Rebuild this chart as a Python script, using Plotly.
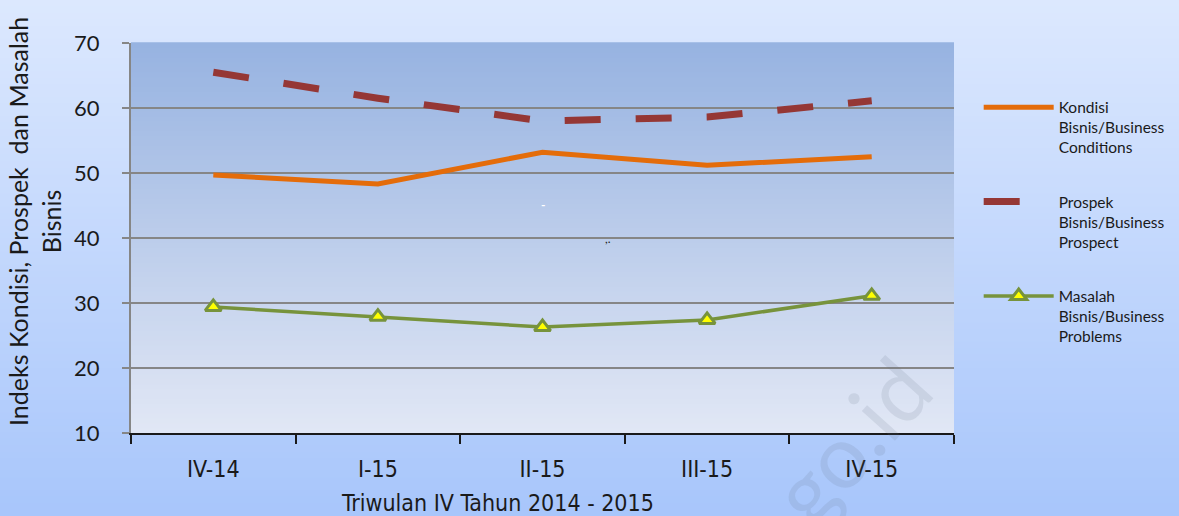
import plotly.graph_objects as go

quarters = ["IV-14", "I-15", "II-15", "III-15", "IV-15"]
kondisi = [49.7, 48.3, 53.2, 51.2, 52.5]
prospek = [65.5, 61.5, 58.0, 58.6, 61.1]
masalah = [29.4, 27.9, 26.3, 27.4, 31.1]

names = [
    "Kondisi<br>Bisnis/Business<br>Conditions",
    "Prospek<br>Bisnis/Business<br>Prospect",
    "Masalah<br>Bisnis/Business<br>Problems",
]

W, H = 1179, 516
L, R, T, B = 131, 225, 43, 83
PW, PH = W - L - R, H - T - B
NARROW = "Liberation Sans Narrow, DejaVu Sans Condensed, Lato, sans-serif"


def mix(c1, c2, t):
    return "rgb({},{},{})".format(*[round(a + (b - a) * t) for a, b in zip(c1, c2)])


fig = go.Figure()

fig.add_trace(go.Scatter(
    x=quarters, y=kondisi, name=names[0], legendgroup="a",
    mode="lines", line=dict(color="#e46c0a", width=5),
))
fig.add_trace(go.Scatter(
    x=quarters, y=prospek, name=names[1], legendgroup="b",
    mode="lines", line=dict(color="#953735", width=7, dash="36px,35px"),
))
fig.add_trace(go.Scatter(
    x=quarters, y=masalah, name=names[2], legendgroup="c",
    mode="lines+markers", line=dict(color="#77933c", width=3.5),
    marker=dict(symbol="triangle-up", size=14, color="#ffff00",
                line=dict(color="#77933c", width=3)),
))

# gradient backgrounds built from thin bands
shapes = []
n = 80
top_c, bot_c = (220, 232, 254), (168, 198, 251)
for i in range(n):
    y0 = -B / PH + (H / PH) * i / n
    y1 = -B / PH + (H / PH) * (i + 1) / n + 0.002
    shapes.append(dict(type="rect", xref="paper", yref="paper",
                       x0=-L / PW, x1=(W - L) / PW, y0=y0, y1=y1,
                       fillcolor=mix(bot_c, top_c, i / (n - 1)),
                       line_width=0, layer="below"))
ptop, pbot = (151, 179, 225), (225, 231, 245)
for i in range(n):
    shapes.append(dict(type="rect", xref="paper", yref="paper",
                       x0=0, x1=1, y0=i / n, y1=(i + 1) / n + 0.002,
                       fillcolor=mix(pbot, ptop, i / (n - 1)),
                       line_width=0, layer="below"))

fig.update_layout(
    width=W, height=H,
    margin=dict(l=L, r=R, t=T, b=B, autoexpand=False),
    paper_bgcolor="#c4d8fd",
    plot_bgcolor="rgba(0,0,0,0)",
    shapes=shapes,
    font=dict(family="Lato, Carlito, sans-serif", color="#1a1a1a"),
    showlegend=True,
    legend=dict(
        x=1.03, y=0.878, xanchor="left", yanchor="top",
        bgcolor="rgba(0,0,0,0)", traceorder="grouped",
        tracegroupgap=31, valign="top", itemwidth=70,
        font=dict(size=15.5, color="#1a1a1a"),
    ),
    xaxis=dict(
        type="category", range=[-0.5, 4.5],
        showline=True, linecolor="#1a1a1a", linewidth=2,
        ticks="outside", tickson="boundaries", ticklen=9,
        tickcolor="#1a1a1a", tickwidth=2,
        showgrid=False,
        tickfont=dict(family=NARROW, size=23, color="#1a1a1a"),
        ticklabelstandoff=14,
    ),
    yaxis=dict(
        range=[10, 70], dtick=10,
        showline=True, linecolor="#868686", linewidth=2,
        ticks="outside", ticklen=7, tickcolor="#868686", tickwidth=2,
        showgrid=True, gridcolor="#868686", gridwidth=2,
        zeroline=False,
        tickfont=dict(size=22, color="#1a1a1a"),
        ticklabelstandoff=18,
    ),
    annotations=[
        dict(text="Indeks Kondisi, Prospek  dan Masalah<br>Bisnis",
             xref="paper", yref="paper", x=(34 - L) / PW, y=(H - B - 222) / PH,
             textangle=-90, showarrow=False, xanchor="center", yanchor="middle",
             font=dict(size=25, color="#1a1a1a")),
        dict(text="Triwulan IV Tahun 2014 - 2015",
             xref="paper", yref="paper", x=(497 - L) / PW, y=(H - B - 503) / PH,
             showarrow=False, xanchor="center", yanchor="middle",
             font=dict(family=NARROW, size=23, color="#1a1a1a")),
        dict(text="<b>-</b>", x=2, y=45.1, showarrow=False,
             font=dict(size=12, color="white")),
        dict(text=",.", x=2.4, y=39.9, showarrow=False,
             font=dict(size=12, color="#1a1a1a")),
        dict(text="go.id", xref="paper", yref="paper",
             x=(850 - L) / PW, y=(H - B - 440) / PH,
             xanchor="center", yanchor="middle",
             textangle=-48, showarrow=False,
             font=dict(family="Lato, sans-serif", size=88,
                       color="rgba(100,110,135,0.14)")),
    ],
)

fig.write_html("out.html", config={"displayModeBar": False},
               post_script="document.body.style.margin='0px';")
